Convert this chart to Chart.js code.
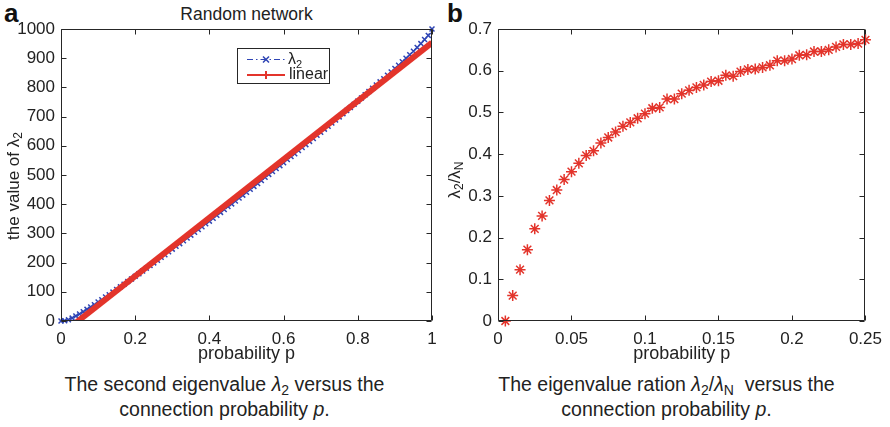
<!DOCTYPE html>
<html>
<head>
<meta charset="utf-8">
<script src="https://cdn.jsdelivr.net/npm/chart.js@4.4.1/dist/chart.umd.min.js"></script>
<style>
  body { margin: 0; background: #fff; width: 890px; height: 427px; position: relative; overflow: hidden;
         font-family: "Liberation Sans", Arial, sans-serif; color: #222; }
  .panel { position: absolute; top: 0; width: 445px; height: 370px; }
  .letter { position: absolute; top: 0; font-weight: bold; font-size: 26px; line-height: 26px; color: #111; }
  .ttl { position: absolute; left: 61px; width: 371px; top: 4px; text-align: center; font-size: 17.5px; line-height: 20px; }
  .cap { position: absolute; top: 372px; width: 445px; text-align: center; font-size: 19.5px; line-height: 25px; }
  .cap sub { font-size: 14px; vertical-align: -4px; line-height: 0; font-style: normal; }
</style>
</head>
<body>
<div class="letter" style="left:4px">a</div>
<div class="letter" style="left:447px">b</div>
<div class="ttl">Random network</div>
<div class="panel" style="left:0"><canvas id="chartA" width="445" height="370"></canvas></div>
<div class="panel" style="left:445px"><canvas id="chartB" width="445" height="370"></canvas></div>
<div class="cap" style="left:2px">The second eigenvalue <i>λ</i><sub>2</sub> versus the<br>connection probability <i>p</i>.</div>
<div class="cap" style="left:444px">The eigenvalue ration <i>λ</i><sub>2</sub>/<i>λ<sub>N</sub></i>&nbsp; versus the<br>connection probability <i>p</i>.</div>
<script>
// panel a: second eigenvalue vs connection probability
const pLambda = [0,0.01,0.02,0.03,0.04,0.05,0.06,0.07,0.08,0.09,0.1,0.11,0.12,0.13,0.14,0.15,0.16,0.17,0.18,0.19,
  0.2,0.21,0.22,0.23,0.24,0.25,0.26,0.27,0.28,0.29,0.3,0.31,0.32,0.33,0.34,0.35,0.36,0.37,0.38,0.39,
  0.4,0.41,0.42,0.43,0.44,0.45,0.46,0.47,0.48,0.49,0.5,0.51,0.52,0.53,0.54,0.55,0.56,0.57,0.58,0.59,
  0.6,0.61,0.62,0.63,0.64,0.65,0.66,0.67,0.68,0.69,0.7,0.71,0.72,0.73,0.74,0.75,0.76,0.77,0.78,0.79,
  0.8,0.81,0.82,0.83,0.84,0.85,0.86,0.87,0.88,0.89,0.9,0.91,0.92,0.93,0.94,0.95,0.96,0.97,0.98,0.99,1];
const lambda2 = [0,1,4,10,17,24,32,40,48,56,65,73,82,90,99,108,117,126,135,144,
  153,162,171,181,190,199,208,218,227,237,246,256,265,275,284,294,304,313,323,333,
  342,352,362,372,382,392,401,411,421,431,441,451,461,471,481,492,502,512,522,532,
  542,553,563,573,584,594,604,615,625,636,646,657,667,678,688,699,710,721,731,742,
  753,764,775,786,797,808,819,830,842,853,865,876,888,900,912,924,937,950,964,978,1000];
const pLinear = [0.04, 1];
const linearFit = [-6, 953];

// panel b: eigenvalue ratio
const pRatio = [0.005,0.01,0.015,0.02,0.025,0.03,0.035,0.04,0.045,0.05,0.055,0.06,0.065,0.07,0.075,0.08,0.085,0.09,0.095,0.1,
  0.105,0.11,0.115,0.12,0.125,0.13,0.135,0.14,0.145,0.15,0.155,0.16,0.165,0.17,0.175,0.18,0.185,0.19,0.195,0.2,
  0.205,0.21,0.215,0.22,0.225,0.23,0.235,0.24,0.245,0.25];
const ratio = [0,0.061,0.123,0.171,0.221,0.252,0.289,0.314,0.339,0.358,0.378,0.397,0.408,0.427,0.440,0.453,0.467,0.476,0.486,0.497,
  0.510,0.512,0.532,0.532,0.545,0.553,0.560,0.566,0.574,0.576,0.589,0.587,0.598,0.603,0.604,0.608,0.613,0.624,0.624,0.628,
  0.637,0.638,0.646,0.646,0.650,0.657,0.663,0.663,0.665,0.674];

const xTicksA = [0, 0.2, 0.4, 0.6, 0.8, 1];
const yTicksA = [0, 100, 200, 300, 400, 500, 600, 700, 800, 900, 1000];
const xTicksB = [0, 0.05, 0.1, 0.15, 0.2, 0.25];
const yTicksB = [0, 0.1, 0.2, 0.3, 0.4, 0.5, 0.6, 0.7];

const BLUE = '#2f45b5';
const RED = '#e3342b';
const FONT = '"Liberation Sans", Arial, sans-serif';

function pts(xs, ys) {
  return xs.map((x, i) => ({ x: x, y: ys[i] }));
}

// text with subscripts, parts = [[text, isSub], ...], centred on x
function drawParts(ctx, parts, x, y, size) {
  const sub = Math.round(size * 0.7);
  let w = 0;
  parts.forEach(p => { ctx.font = (p[1] ? sub : size) + 'px ' + FONT; w += ctx.measureText(p[0]).width; });
  let cx = x - w / 2;
  parts.forEach(p => {
    ctx.font = (p[1] ? sub : size) + 'px ' + FONT;
    ctx.fillText(p[0], cx, y + (p[1] ? size * 0.3 : 0));
    cx += ctx.measureText(p[0]).width;
  });
}

// matlab style box with inward ticks on all sides + rotated y label
const matlabBox = {
  id: 'matlabBox',
  afterDraw(chart, args, opts) {
    const { ctx, chartArea: a, scales: { x, y } } = chart;
    ctx.save();
    ctx.strokeStyle = '#262626';
    ctx.lineWidth = 1;
    const L = Math.round(a.left) + 0.5, R = Math.round(a.right) - 0.5;
    const T = Math.round(a.top) + 0.5, B = Math.round(a.bottom) - 0.5;
    ctx.beginPath();
    ctx.rect(L, T, R - L, B - T);
    x.ticks.forEach(t => {
      const px = Math.round(x.getPixelForValue(t.value)) + 0.5;
      ctx.moveTo(px, B); ctx.lineTo(px, B - 5);
      ctx.moveTo(px, T); ctx.lineTo(px, T + 5);
    });
    y.ticks.forEach(t => {
      const py = Math.round(y.getPixelForValue(t.value)) + 0.5;
      ctx.moveTo(L, py); ctx.lineTo(L + 5, py);
      ctx.moveTo(R, py); ctx.lineTo(R - 5, py);
    });
    ctx.stroke();

    ctx.fillStyle = '#222';
    ctx.textBaseline = 'middle';
    ctx.translate(opts.labelX, opts.labelY);
    ctx.rotate(-Math.PI / 2);
    drawParts(ctx, opts.label, 0, 0, 17);
    ctx.restore();
  }
};

// legend box of panel a
const legendA = {
  id: 'legendA',
  afterDraw(chart) {
    const { ctx, chartArea: a } = chart;
    const bx = a.left + 176, by = a.top + 19, bw = 92, bh = 35;
    ctx.save();
    ctx.fillStyle = '#fff';
    ctx.fillRect(bx, by, bw, bh);
    ctx.strokeStyle = '#262626';
    ctx.lineWidth = 1;
    ctx.strokeRect(bx + 0.5, by + 0.5, bw, bh);

    // lambda_2 entry
    let ly = by + 11.5;
    ctx.strokeStyle = BLUE;
    ctx.lineWidth = 1.2;
    ctx.setLineDash([6, 3, 1.5, 3]);
    ctx.beginPath(); ctx.moveTo(bx + 10, ly); ctx.lineTo(bx + 48, ly); ctx.stroke();
    ctx.setLineDash([]);
    ctx.lineWidth = 1.5;
    const mx = bx + 29;
    ctx.beginPath();
    ctx.moveTo(mx - 3, ly - 3); ctx.lineTo(mx + 3, ly + 3);
    ctx.moveTo(mx - 3, ly + 3); ctx.lineTo(mx + 3, ly - 3);
    ctx.stroke();
    ctx.fillStyle = '#222';
    ctx.textBaseline = 'middle';
    ctx.textAlign = 'left';
    ctx.font = '16px ' + FONT;
    ctx.fillText('λ', bx + 51, ly);
    const lw = ctx.measureText('λ').width;
    ctx.font = '11px ' + FONT;
    ctx.fillText('2', bx + 51 + lw, ly + 5);

    // linear entry
    ly = by + 27;
    ctx.strokeStyle = RED;
    ctx.lineWidth = 2;
    ctx.beginPath(); ctx.moveTo(bx + 10, ly); ctx.lineTo(bx + 48, ly);
    ctx.moveTo(mx, ly - 4); ctx.lineTo(mx, ly + 4);
    ctx.stroke();
    ctx.font = '16px ' + FONT;
    ctx.fillText('linear', bx + 52, ly);
    ctx.restore();
  }
};

function tickFont() {
  return { family: FONT, size: 17 };
}

function plainLabel(value) {
  return String(value);
}

new Chart(document.getElementById('chartA'), {
  type: 'scatter',
  data: {
    datasets: [
      {
        label: 'λ2',
        data: pts(pLambda, lambda2),
        showLine: true,
        borderColor: BLUE,
        borderWidth: 1.2,
        borderDash: [6, 3, 1.5, 3],
        pointStyle: 'crossRot',
        pointRadius: 3.5,
        pointBorderColor: BLUE,
        pointBorderWidth: 1.5,
        clip: false,
        order: 2
      },
      {
        label: 'linear',
        data: pts(pLinear, linearFit),
        showLine: true,
        borderColor: RED,
        borderWidth: 6,
        pointRadius: 0,
        order: 1
      }
    ]
  },
  options: {
    responsive: false,
    animation: false,
    events: [],
    layout: { padding: { top: 29, right: 13, left: 0, bottom: 0 } },
    plugins: {
      legend: { display: false },
      tooltip: { enabled: false },
      matlabBox: { label: [['the value of λ', false], ['2', true]], labelX: 14, labelY: 186 }
    },
    scales: {
      x: {
        type: 'linear',
        min: 0,
        max: 1,
        afterBuildTicks: s => { s.ticks = xTicksA.map(v => ({ value: v })); },
        afterFit: s => { s.height = 49; },
        grid: { display: false, drawTicks: false, tickLength: 0 },
        border: { display: false },
        ticks: { color: '#222', font: tickFont(), padding: 8, maxRotation: 0, callback: plainLabel },
        title: { display: true, text: 'probability p', color: '#222', font: { family: FONT, size: 18 }, padding: { top: 0, bottom: 5 } }
      },
      y: {
        type: 'linear',
        min: 0,
        max: 1000,
        afterBuildTicks: s => { s.ticks = yTicksA.map(v => ({ value: v })); },
        afterFit: s => { s.width = 61; },
        grid: { display: false, drawTicks: false, tickLength: 0 },
        border: { display: false },
        ticks: { color: '#222', font: tickFont(), padding: 6, callback: plainLabel }
      }
    }
  },
  plugins: [matlabBox, legendA]
});

new Chart(document.getElementById('chartB'), {
  type: 'scatter',
  data: {
    datasets: [
      {
        label: 'λ2/λN',
        data: pts(pRatio, ratio),
        showLine: false,
        pointStyle: 'star',
        pointRadius: 5.5,
        pointBorderColor: RED,
        pointBackgroundColor: RED,
        pointBorderWidth: 1.5,
        clip: false
      }
    ]
  },
  options: {
    responsive: false,
    animation: false,
    events: [],
    layout: { padding: { top: 29, right: 22, left: 0, bottom: 0 } },
    plugins: {
      legend: { display: false },
      tooltip: { enabled: false },
      matlabBox: { label: [['λ', false], ['2', true], ['/λ', false], ['N', true]], labelX: 10, labelY: 180 }
    },
    scales: {
      x: {
        type: 'linear',
        min: 0,
        max: 0.25,
        afterBuildTicks: s => { s.ticks = xTicksB.map(v => ({ value: v })); },
        afterFit: s => { s.height = 49; },
        grid: { display: false, drawTicks: false, tickLength: 0 },
        border: { display: false },
        ticks: { color: '#222', font: tickFont(), padding: 8, maxRotation: 0, callback: plainLabel },
        title: { display: true, text: 'probability p', color: '#222', font: { family: FONT, size: 18 }, padding: { top: 0, bottom: 5 } }
      },
      y: {
        type: 'linear',
        min: 0,
        max: 0.7,
        afterBuildTicks: s => { s.ticks = yTicksB.map(v => ({ value: v })); },
        afterFit: s => { s.width = 53; },
        grid: { display: false, drawTicks: false, tickLength: 0 },
        border: { display: false },
        ticks: { color: '#222', font: tickFont(), padding: 6, callback: plainLabel }
      }
    }
  },
  plugins: [matlabBox]
});
</script>
</body>
</html>
